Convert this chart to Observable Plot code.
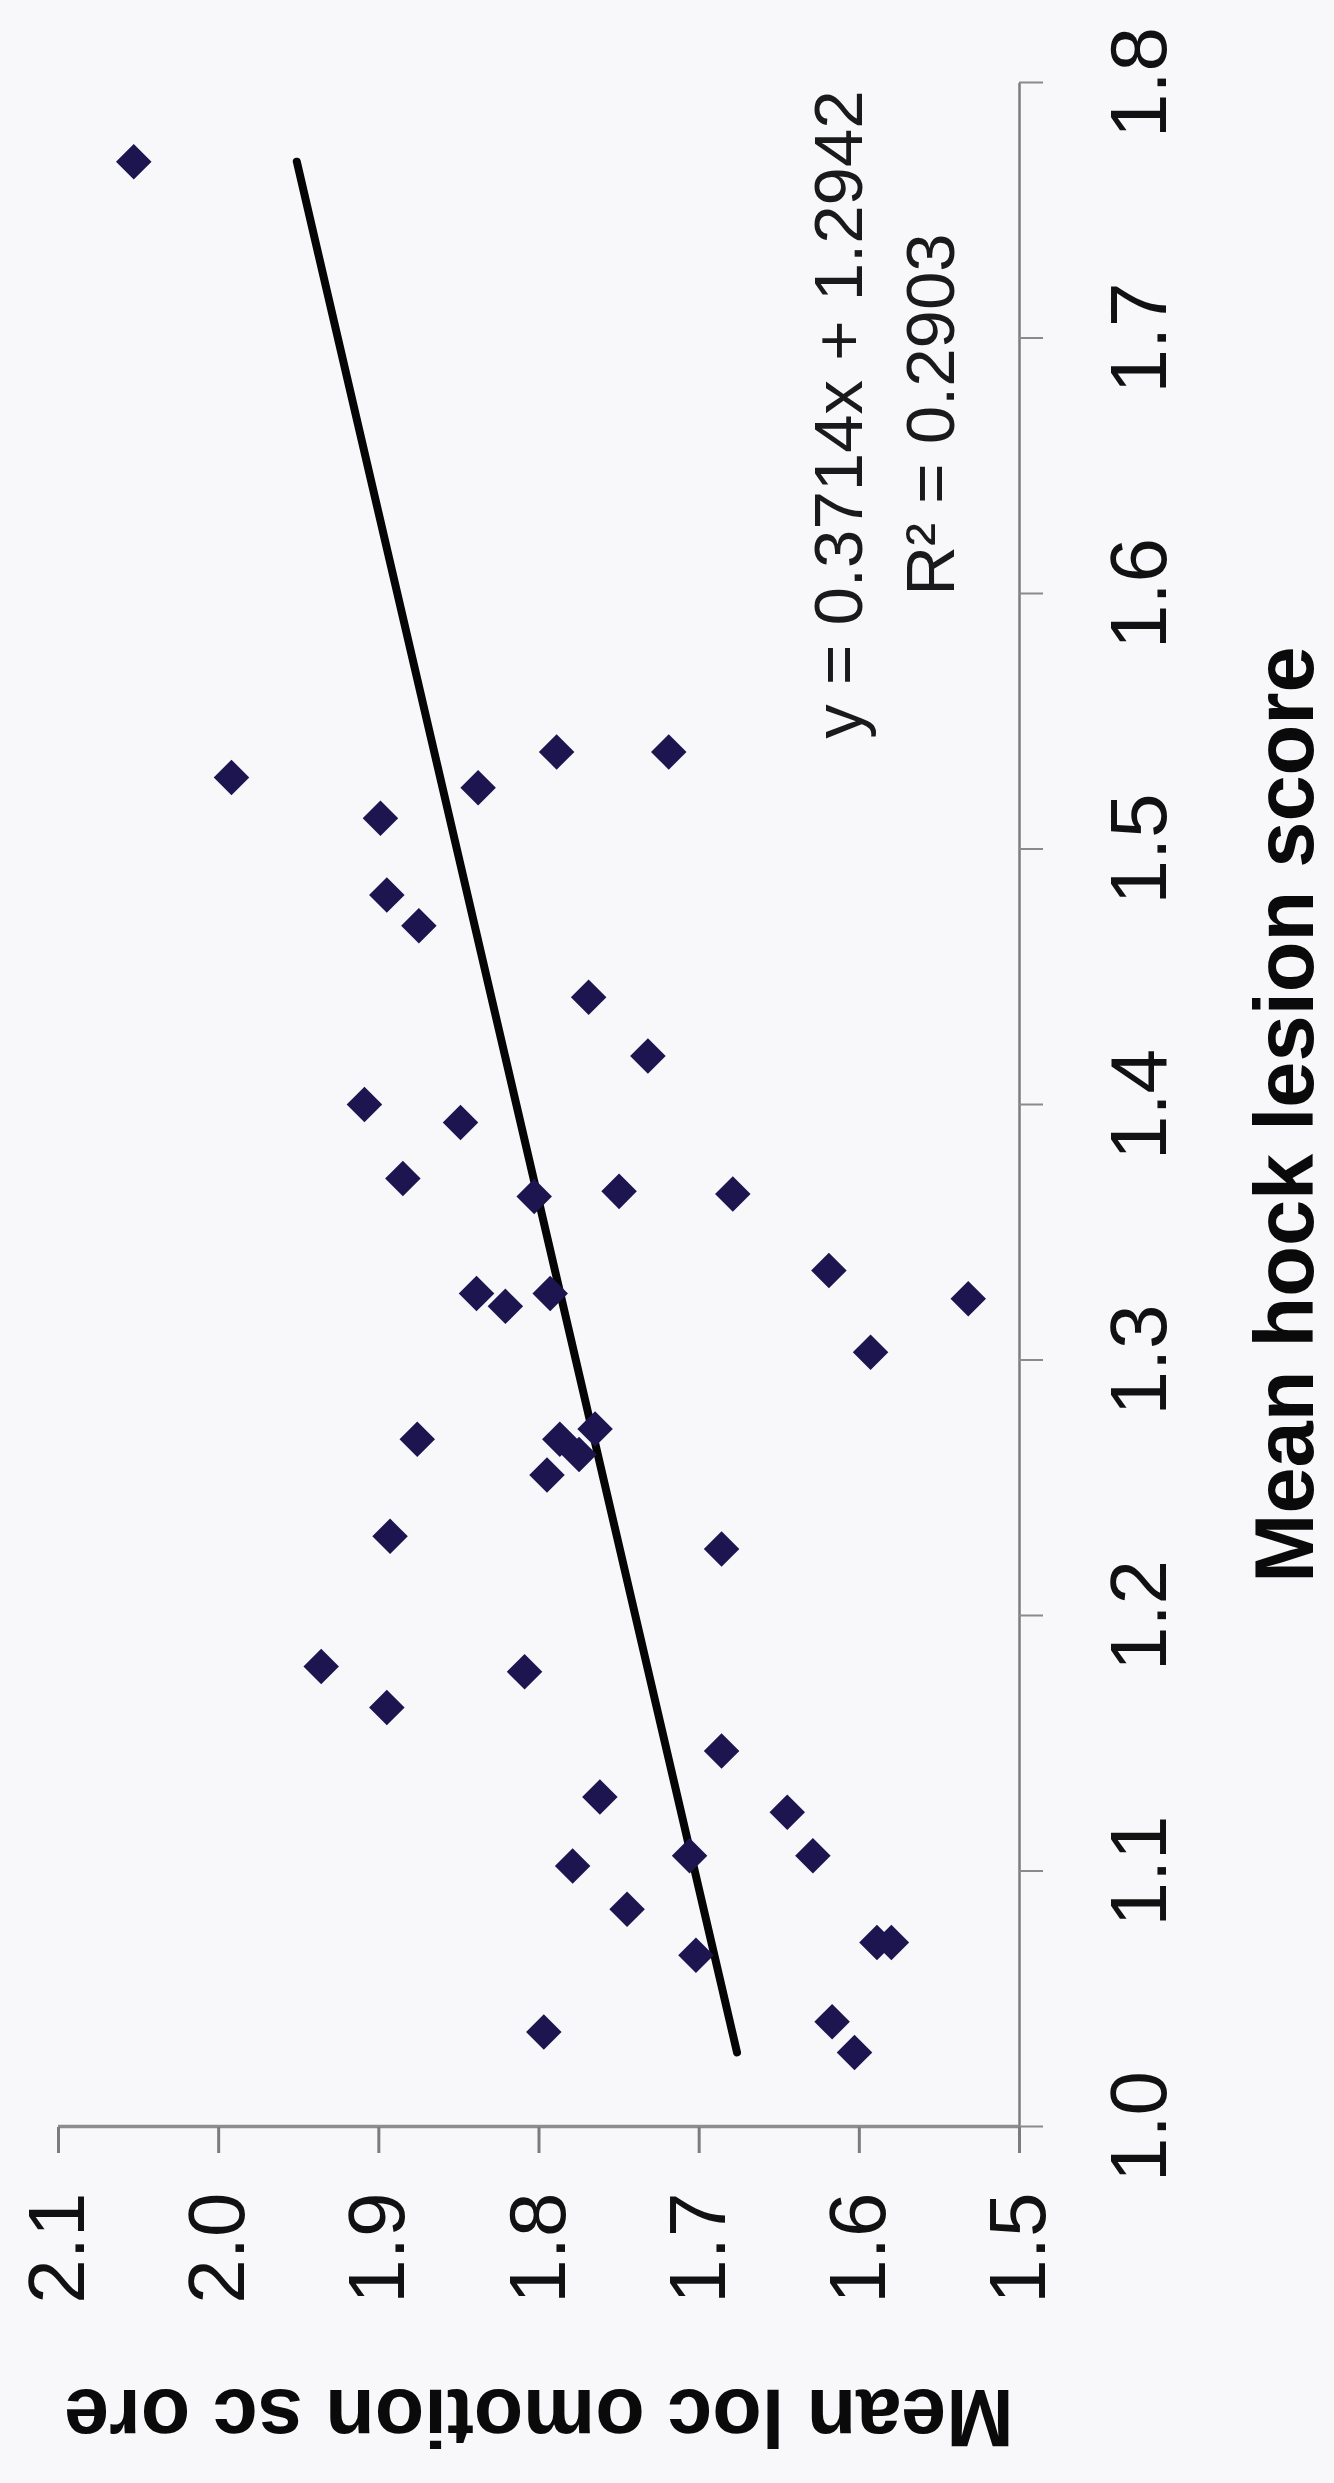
<!DOCTYPE html>
<html>
<head>
<meta charset="utf-8">
<script src="https://cdn.jsdelivr.net/npm/d3@7"></script>
<script src="https://cdn.jsdelivr.net/npm/@observablehq/plot@0.6"></script>
<style>
  html, body { margin: 0; padding: 0; background: #f8f8fb; }
  #chart { position: relative; width: 1334px; height: 2483px; overflow: hidden; background: #f8f8fb; }
</style>
</head>
<body>
<div id="chart"></div>
<script>
// Mean hock lesion score (x) and mean locomotion score (y) per farm
const hockScores = [
  1.769, 1.528, 1.524, 1.538, 1.538, 1.512, 1.482, 1.470, 1.442, 1.419,
  1.400, 1.393, 1.371, 1.364, 1.366, 1.365, 1.335, 1.324, 1.303, 1.326,
  1.321, 1.326, 1.269, 1.269, 1.263, 1.273, 1.255, 1.231, 1.226, 1.180,
  1.164, 1.178, 1.147, 1.129, 1.123, 1.102, 1.106, 1.106, 1.085, 1.067,
  1.072, 1.072, 1.037, 1.041, 1.029
];
const locomotionScores = [
  2.053, 1.992, 1.838, 1.789, 1.719, 1.899, 1.895, 1.875, 1.769, 1.732,
  1.909, 1.849, 1.885, 1.803, 1.750, 1.679, 1.619, 1.532, 1.593, 1.839,
  1.821, 1.793, 1.876, 1.787, 1.775, 1.765, 1.795, 1.893, 1.686, 1.936,
  1.895, 1.809, 1.686, 1.762, 1.645, 1.779, 1.706, 1.629, 1.745, 1.702,
  1.589, 1.580, 1.797, 1.617, 1.603
];
const trendSlope = [0.3714];
const trendIntercept = [1.2942];
const equationLines = ["y = 0.3714x + 1.2942", "R\u00B2 = 0.2903"];
const hockTicks = [1.0, 1.1, 1.2, 1.3, 1.4, 1.5, 1.6, 1.7, 1.8];
const locTicks = [1.5, 1.6, 1.7, 1.8, 1.9, 2.0, 2.1];
const xTitle = ["Mean hock lesion score"];
const yTitle = ["Mean loc omotion sc ore"];

const points = hockScores.map((h, i) => ({hock: h, loc: locomotionScores[i]}));
const xExt = d3.extent(hockScores);
const trend = xExt.map(x => ({hock: x, loc: trendSlope[0] * x + trendIntercept[0]}));
const fmt = d3.format(".1f");
const font = "'Liberation Sans', Arial, Helvetica, sans-serif";

const W = 2483, H = 1334;
const svg = Plot.plot({
  width: W,
  height: H,
  marginLeft: 356,
  marginRight: 83,
  marginTop: 58,
  marginBottom: 315,
  x: {domain: [1.0, 1.8]},
  y: {domain: [1.5, 2.1]},
  style: {fontFamily: font, background: "#f8f8fb", overflow: "visible", color: "#111"},
  marks: [
    Plot.ruleY([1.5], {stroke: "#7c7c7c", strokeWidth: 2.5}),
    Plot.ruleX([1.0], {stroke: "#8c8c8c", strokeWidth: 3.5}),
    Plot.axisX({ticks: hockTicks, tickFormat: fmt, tickSize: 24, tickPadding: 66, fontSize: 80,
                label: null, stroke: "#8a8a8a", strokeWidth: 2, fill: "#111"}),
    Plot.axisY({ticks: locTicks, tickFormat: fmt, tickSize: 26, tickPadding: 40, fontSize: 80,
                label: null, stroke: "#7c7c7c", strokeWidth: 3, fill: "#111"}),
    Plot.line(trend, {x: "hock", y: "loc", stroke: "#050505", strokeWidth: 8}),
    Plot.dot(points, {x: "hock", y: "loc", symbol: "diamond2", r: 16, fill: "#1c1550", stroke: "none"}),
    Plot.text(equationLines.slice(0, 1), {frameAnchor: "bottom-right", textAnchor: "middle", lineAnchor: "bottom",
               dx: -332, dy: -158, fontSize: 69, fill: "#1a1a1a", text: d => d}),
    Plot.text(equationLines.slice(1, 2), {frameAnchor: "bottom-right", textAnchor: "middle", lineAnchor: "bottom",
               dx: -332, dy: -66, fontSize: 69, fill: "#1a1a1a", text: d => d}),
    Plot.text(xTitle, {frameAnchor: "bottom", textAnchor: "middle", lineAnchor: "top",
               dx: -10, dy: 235, fontSize: 83, fontWeight: "bold", fill: "#0a0a0a", text: d => d}),
    Plot.text(yTitle, {frameAnchor: "left", textAnchor: "middle", lineAnchor: "bottom", rotate: -90,
               dx: -263, dy: 0, fontSize: 81, fontWeight: "bold", fill: "#0a0a0a", text: d => d})
  ]
});

svg.style.position = "absolute";
svg.style.left = "0px";
svg.style.top = "0px";
svg.style.maxWidth = "none";
svg.style.width = W + "px";
svg.style.height = H + "px";
svg.style.transformOrigin = "0 0";
svg.style.transform = `translate(0px, ${W}px) rotate(-90deg)`;
document.getElementById("chart").appendChild(svg);
</script>
</body>
</html>
